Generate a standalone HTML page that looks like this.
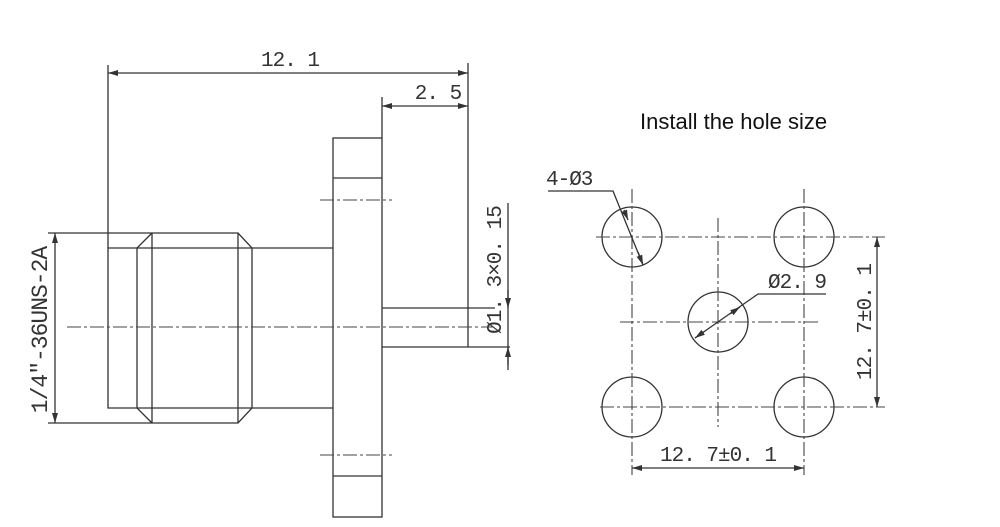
<!DOCTYPE html>
<html><head><meta charset="utf-8"><style>
html,body{margin:0;padding:0;background:#fff;}
svg{display:block;}
.l{stroke:#333;stroke-width:1.3;fill:none;}
.c{stroke:#444;stroke-width:1.1;fill:none;stroke-dasharray:14 3 3 3;}
.t{font-family:"Liberation Mono",monospace;font-size:21px;fill:#333;letter-spacing:-1px;}
</style></head><body>
<svg width="1000" height="527" viewBox="0 0 1000 527" xmlns="http://www.w3.org/2000/svg">
<defs><marker id="a" viewBox="0 0 10 6" refX="10" refY="3" markerWidth="10" markerHeight="6" orient="auto-start-reverse" markerUnits="userSpaceOnUse"><path d="M0,0 L10,3 L0,6z" fill="#333"/></marker></defs>
<!-- 12.1 dim -->
<line class="l" x1="108" y1="65" x2="108" y2="248"/>
<line class="l" x1="468" y1="63" x2="468" y2="347"/>
<line class="l" x1="108" y1="73" x2="468" y2="73" marker-start="url(#a)" marker-end="url(#a)"/>
<text class="t" x="290" y="66" text-anchor="middle">12. 1</text>
<!-- 2.5 dim -->
<line class="l" x1="382" y1="97" x2="382" y2="138"/>
<line class="l" x1="382" y1="106" x2="468" y2="106" marker-start="url(#a)" marker-end="url(#a)"/>
<text class="t" x="438" y="99" text-anchor="middle">2. 5</text>
<!-- flange -->
<rect class="l" x="333" y="138" width="49" height="379"/>
<line class="l" x1="333" y1="178" x2="382" y2="178"/>
<line class="l" x1="333" y1="476" x2="382" y2="476"/>
<line class="c" x1="320" y1="200" x2="392" y2="200"/>
<line class="c" x1="320" y1="455" x2="392" y2="455"/>
<!-- body -->
<polyline class="l" points="333,248 108,248 108,408 333,408"/>
<polyline class="l" points="48,233 238,233 252,248 252,408 238,423 48,423"/>
<polyline class="l" points="152,233 137,248 137,408 152,423"/>
<line class="l" x1="152" y1="233" x2="152" y2="423"/>
<line class="l" x1="238" y1="233" x2="238" y2="423"/>
<line class="l" x1="55" y1="233" x2="55" y2="423" marker-start="url(#a)" marker-end="url(#a)"/>
<text class="t" transform="translate(47,330) rotate(-90)" text-anchor="middle" style="font-size:23px">1/4″-36UNS-2A</text>
<!-- pin -->
<line class="l" x1="382" y1="308" x2="495" y2="308"/>
<line class="l" x1="382" y1="347" x2="510" y2="347"/>
<line class="c" x1="67" y1="327" x2="493" y2="327"/>
<line class="l" x1="508" y1="203" x2="508" y2="370"/>
<line class="l" x1="508" y1="290" x2="508" y2="308" marker-end="url(#a)"/>
<line class="l" x1="508" y1="365" x2="508" y2="347" marker-end="url(#a)"/>
<text class="t" transform="translate(501,270) rotate(-90)" text-anchor="middle">Ø1. 3×0. 15</text>
<!-- title -->
<text x="640" y="129" style="font-family:'Liberation Sans',sans-serif;font-size:22px;fill:#111">Install the hole size</text>
<!-- holes -->
<circle class="l" cx="632" cy="237" r="30"/>
<circle class="l" cx="804" cy="237" r="30"/>
<circle class="l" cx="632" cy="407" r="30"/>
<circle class="l" cx="804" cy="407" r="30"/>
<circle class="l" cx="718" cy="322" r="30"/>
<line class="c" x1="632" y1="189" x2="632" y2="475"/>
<line class="c" x1="804" y1="189" x2="804" y2="475"/>
<line class="c" x1="596" y1="237" x2="885" y2="237"/>
<line class="c" x1="600" y1="407" x2="885" y2="407"/>
<line class="c" x1="620" y1="322" x2="818" y2="322"/>
<line class="c" x1="718" y1="218" x2="718" y2="427"/>
<line class="l" x1="877" y1="237" x2="877" y2="407" marker-start="url(#a)" marker-end="url(#a)"/>
<text class="t" transform="translate(871,322) rotate(-90)" text-anchor="middle">12. 7±0. 1</text>
<line class="l" x1="632" y1="468" x2="804" y2="468" marker-start="url(#a)" marker-end="url(#a)"/>
<text class="t" x="718" y="461" text-anchor="middle">12. 7±0. 1</text>
<!-- leaders -->
<text class="t" x="546" y="185">4-Ø3</text>
<polyline class="l" points="548,191 613,191 643,265"/>
<line class="l" x1="628" y1="220" x2="624" y2="210" marker-end="url(#a)" transform="rotate(180 626 215)"/>
<line class="l" x1="638" y1="252" x2="643" y2="265" marker-end="url(#a)"/>
<text class="t" x="768" y="288">Ø2. 9</text>
<polyline class="l" points="826,294 758,294 695,338"/>
<line class="l" x1="730" y1="314" x2="740" y2="307" marker-end="url(#a)"/>
<line class="l" x1="705" y1="331" x2="695" y2="338" marker-end="url(#a)"/>
</svg>
</body></html>
